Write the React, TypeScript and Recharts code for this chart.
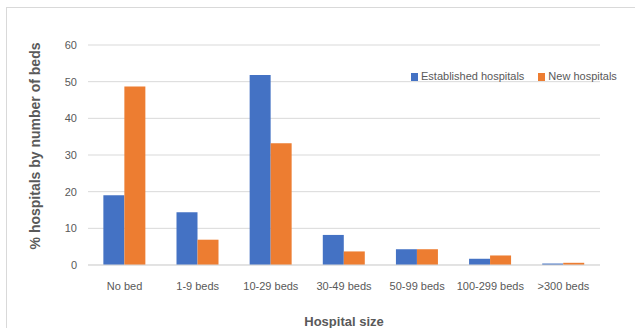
import { BarChart, Bar, XAxis, YAxis, CartesianGrid, Legend } from "recharts";

const categories = ["No bed", "1-9 beds", "10-29 beds", "30-49 beds", "50-99 beds", "100-299 beds", ">300 beds"];
const established = [19.0, 14.4, 51.8, 8.2, 4.3, 1.7, 0.4];
const newHospitals = [48.7, 6.9, 33.2, 3.7, 4.3, 2.6, 0.6];
const yTicks = [0, 10, 20, 30, 40, 50, 60];

const data = categories.map((name, i) => ({
  name,
  established: established[i],
  newHosp: newHospitals[i],
}));

const BLUE = "#4472C4";
const ORANGE = "#ED7D31";
const GRAY = "#595959";
const FONT = "'Liberation Sans', Arial, sans-serif";

const tickStyle = { fill: GRAY, fontSize: 11, fontFamily: FONT };

function LegendContent({ payload }: any) {
  return (
    <div style={{ display: "flex", alignItems: "center", fontFamily: FONT, fontSize: 11, lineHeight: "13px", color: GRAY, whiteSpace: "nowrap" }}>
      {(payload || []).map((p: any, i: number) => (
        <div key={i} style={{ display: "flex", alignItems: "center", marginRight: i === 0 ? 14 : 0 }}>
          <span style={{ display: "inline-block", width: 7, height: 8, background: p.color, marginRight: 3 }} />
          <span>{p.value}</span>
        </div>
      ))}
    </div>
  );
}

export default function App() {
  return (
    <div style={{ position: "absolute", left: 0, top: 0, width: 635, height: 328, overflow: "hidden", background: "#fff" }}>
      <div
        style={{
          position: "absolute",
          left: 11,
          top: -27,
          fontFamily: "'Liberation Serif', serif",
          fontWeight: "bold",
          fontSize: 24,
          lineHeight: "24px",
          whiteSpace: "nowrap",
          color: "#000",
        }}
      >
        Figure 6: Hospitals growth toward bed capacity
      </div>
      <div
        style={{
          position: "absolute",
          left: 6,
          top: 7,
          width: 660,
          height: 340,
          border: "1px solid #d9d9d9",
        }}
      />
      <div style={{ position: "absolute", left: 0, top: 0 }}>
        <BarChart
          width={635}
          height={328}
          data={data}
          margin={{ top: 32, right: 35, left: 0, bottom: 33 }}
          barCategoryGap="21%"
          barGap={0}
        >
          <CartesianGrid vertical={false} stroke="#d9d9d9" />
          <XAxis
            dataKey="name"
            height={30}
            stroke="#d9d9d9"
            tickLine={false}
            tickSize={6}
            tickMargin={11}
            tick={tickStyle}
            interval={0}
            label={() => (
              <text x={344} y={326} textAnchor="middle" fill={GRAY} fontFamily={FONT} fontSize={13} fontWeight="bold">
                Hospital size
              </text>
            )}
          />
          <YAxis
            width={88}
            domain={[0, 60]}
            ticks={yTicks}
            axisLine={false}
            tickLine={false}
            tickSize={6}
            tickMargin={5}
            tick={tickStyle}
            label={() => (
              <text
                x={40}
                y={146}
                transform="rotate(-90 40 146)"
                textAnchor="middle"
                fill={GRAY}
                fontFamily={FONT}
                fontSize={14}
                fontWeight="bold"
              >
                % hospitals by number of beds
              </text>
            )}
          />
          <Legend
            verticalAlign="top"
            align="left"
            content={<LegendContent />}
            wrapperStyle={{ top: 70, left: 411, width: "auto" }}
          />
          <Bar dataKey="established" name="Established hospitals" fill={BLUE} isAnimationActive={false} />
          <Bar dataKey="newHosp" name="New hospitals" fill={ORANGE} isAnimationActive={false} />
        </BarChart>
      </div>
    </div>
  );
}
